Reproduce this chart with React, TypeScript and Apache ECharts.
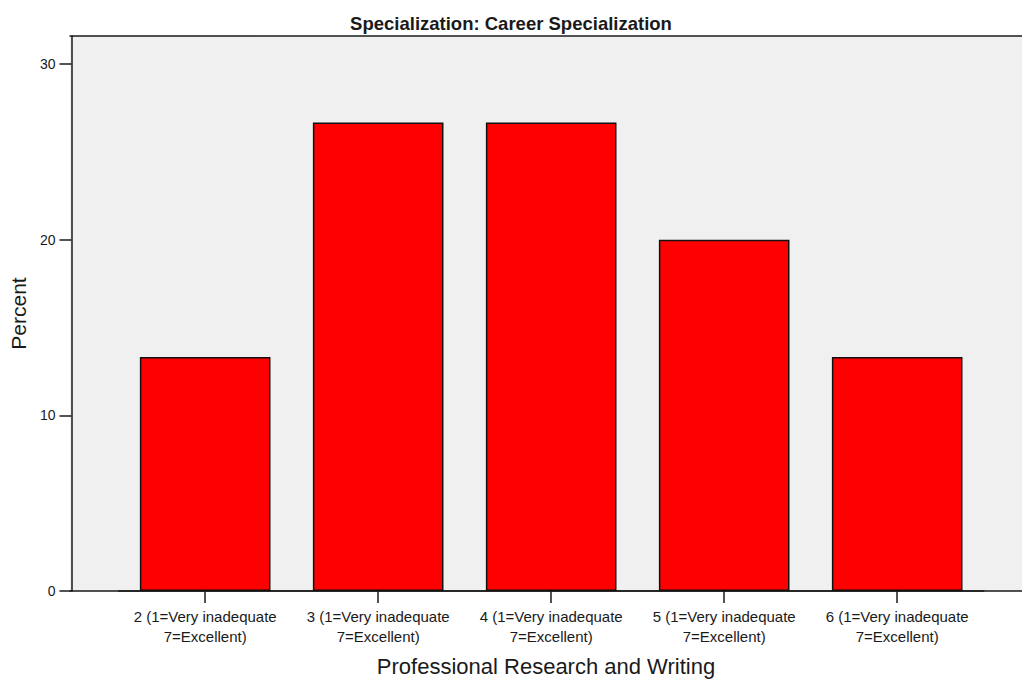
import React, { useEffect, useRef } from "react";
import * as echarts from "echarts";

const TITLE = "Specialization: Career Specialization";
const X_NAME = "Professional Research and Writing";
const Y_NAME = "Percent";
const categories = [
  "2 (1=Very inadequate\n7=Excellent)",
  "3 (1=Very inadequate\n7=Excellent)",
  "4 (1=Very inadequate\n7=Excellent)",
  "5 (1=Very inadequate\n7=Excellent)",
  "6 (1=Very inadequate\n7=Excellent)",
];
const percents = [13.33, 26.67, 26.67, 20.0, 13.33];
const yMin = 0;
const yMax = 31.6;
const yInterval = 10;

const FONT = "'Liberation Sans', Arial, Helvetica, sans-serif";
const INK = "#1a1a1a";

export default function App() {
  const ref = useRef<HTMLDivElement>(null);
  useEffect(() => {
    if (!ref.current) return;
    const chart = echarts.init(ref.current, undefined, { renderer: "svg" });
    chart.setOption({
      animation: false,
      backgroundColor: "#ffffff",
      textStyle: { fontFamily: FONT },
      title: {
        text: TITLE,
        left: "center",
        top: 9,
        textStyle: { fontFamily: FONT, fontSize: 18.5, fontWeight: "bold", color: INK },
      },
      grid: [
        { left: 117.2, right: 38.3, top: 36, bottom: 92, containLabel: false },
        {
          left: 70,
          right: 0,
          top: 36,
          bottom: 92,
          show: true,
          backgroundColor: "#f0f0f0",
          borderWidth: 0,
          z: -1,
        },
      ],
      xAxis: [
        {
          type: "category",
          gridIndex: 0,
          data: categories,
          axisLine: { show: true, lineStyle: { color: INK, width: 1.5 } },
          axisTick: { show: true, alignWithLabel: true, length: 12, lineStyle: { color: INK, width: 1.5 } },
          axisLabel: {
            interval: 0,
            margin: 15,
            fontFamily: FONT,
            fontSize: 15,
            lineHeight: 20,
            color: INK,
            align: "center",
          },
          splitLine: { show: false },
        },
        {
          type: "value",
          gridIndex: 1,
          position: "bottom",
          min: 0,
          max: 1,
          axisLine: { show: true, lineStyle: { color: INK, width: 1.5 } },
          axisTick: { show: false },
          axisLabel: { show: false },
          splitLine: { show: false },
          name: X_NAME,
          nameLocation: "middle",
          nameGap: 64,
          nameTextStyle: { fontFamily: FONT, fontSize: 22, color: INK },
        },
        {
          type: "value",
          gridIndex: 1,
          position: "top",
          min: 0,
          max: 1,
          axisLine: { show: true, lineStyle: { color: INK, width: 1.5 } },
          axisTick: { show: false },
          axisLabel: { show: false },
          splitLine: { show: false },
        },
      ],
      yAxis: [
        {
          type: "value",
          gridIndex: 0,
          min: yMin,
          max: yMax,
          interval: yInterval,
          offset: 47.2,
          axisLine: { show: true, lineStyle: { color: INK, width: 1.5 } },
          axisTick: { show: true, length: 12, lineStyle: { color: INK, width: 1.5 } },
          axisLabel: {
            margin: 16,
            fontFamily: FONT,
            fontSize: 14,
            color: INK,
            showMaxLabel: false,
            formatter: (v: number) => (v % yInterval === 0 ? String(v) : ""),
          },
          splitLine: { show: false },
          name: Y_NAME,
          nameLocation: "middle",
          nameGap: 38,
          nameTextStyle: { fontFamily: FONT, fontSize: 21, color: INK },
        },
        {
          type: "value",
          gridIndex: 1,
          min: 0,
          max: 1,
          show: false,
        },
      ],
      series: [
        {
          type: "bar",
          xAxisIndex: 0,
          yAxisIndex: 0,
          data: percents,
          barWidth: "75.5%",
          itemStyle: { color: "#ff0000", borderColor: "#111111", borderWidth: 1.5 },
          z: 3,
        },
      ],
    });
    return () => chart.dispose();
  }, []);
  return (
    <div
      ref={ref}
      style={{ position: "absolute", left: 0, top: 0, width: 1022, height: 683 }}
    />
  );
}
